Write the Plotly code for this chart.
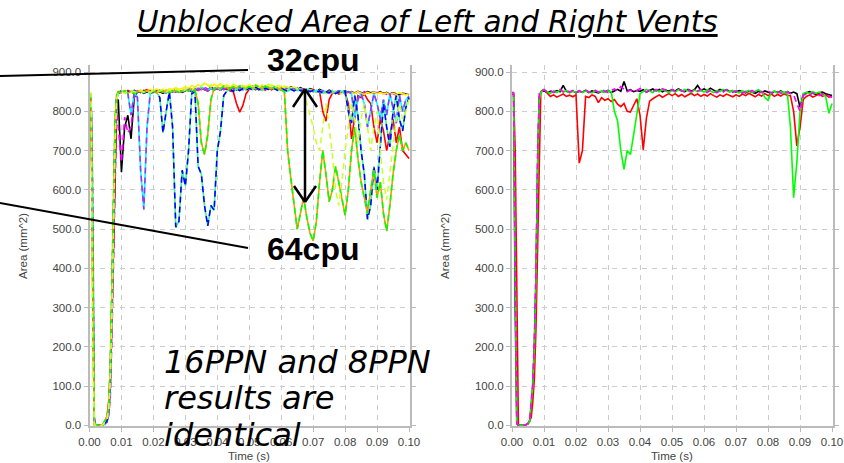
import plotly.graph_objects as go

W, H = 844, 463

# ---------------- data ----------------
TIME_MS = [0, 0.5, 1, 1.5, 2, 3, 4, 5, 5.5, 6, 6.5, 7, 7.5, 8, 8.5, 9,
           10, 11, 12, 13, 14, 15, 16, 17, 18, 19,
           20, 21, 22, 23, 24, 25, 26, 27, 28, 29,
           30, 31, 32, 33, 34, 35, 36, 37, 38, 39,
           40, 41, 42, 43, 44, 45, 46, 47, 48, 49,
           50, 51, 52, 53, 54, 55, 56, 57, 58, 59,
           60, 61, 62, 63, 64, 65, 66, 67, 68, 69,
           70, 71, 72, 73, 74, 75, 76, 77, 78, 79,
           80, 81, 82, 83, 84, 85, 86, 87, 88, 89,
           90, 91, 92, 93, 94, 95, 96, 97, 98, 99,
           100]
TIME_S = [t / 1000.0 for t in TIME_MS]

# Left panel (32cpu / 64cpu runs)
left_black = [842, 840, 380, 2, 0, 0, 0, 6, 10, 30, 90, 260, 470, 700, 820, 830,
              645, 760, 790, 730, 835, 850, 848, 853, 849, 852,
              848, 852, 850, 846, 853, 849, 851, 855, 850, 848,
              852, 856, 850, 858, 854, 860, 856, 852, 862, 855,
              858, 854, 860, 856, 862, 858, 855, 860, 857, 862,
              858, 864, 860, 855, 862, 858, 860, 856, 862, 858,
              855, 860, 857, 862, 858, 855, 860, 856, 852, 858,
              855, 850, 856, 852, 848, 854, 850, 847, 852, 849,
              852, 848, 850, 846, 851, 848, 845, 850, 847, 849,
              846, 850, 845, 848, 843, 847, 845, 842, 846, 844,
              843]
left_magenta = [846, 842, 500, 10, 0, 0, 0, 4, 8, 25, 70, 220, 430, 650, 800, 760,
                670, 785, 745, 760, 840, 852, 847, 851, 855, 849,
                853, 848, 852, 849, 846, 851, 854, 848, 852, 850,
                855, 851, 857, 853, 859, 855, 861, 857, 853, 859,
                856, 861, 855, 859, 863, 857, 861, 855, 859, 856,
                861, 857, 863, 858, 856, 861, 857, 863, 859, 855,
                859, 855, 861, 857, 853, 859, 855, 857, 853, 855,
                851, 855, 849, 853, 851, 847, 853, 849, 851, 847,
                849, 846, 852, 847, 849, 845, 850, 846, 848, 845,
                848, 844, 847, 843, 848, 845, 841, 846, 843, 845,
                841]
left_cyan = [835, 828, 600, 20, 0, 0, 0, 5, 9, 35, 110, 300, 520, 740, 830, 846,
             848, 852, 846, 790, 848, 835, 650, 550, 760, 845,
             851, 848, 853, 850, 847, 852, 849, 853, 848, 851,
             853, 857, 852, 858, 855, 861, 856, 853, 859, 856,
             860, 855, 859, 862, 856, 860, 857, 861, 855, 859,
             857, 862, 858, 860, 855, 861, 857, 859, 863, 857,
             858, 854, 860, 856, 859, 853, 857, 852, 856, 853,
             850, 854, 848, 852, 849, 846, 851, 848, 852, 849,
             847, 850, 846, 780, 830, 846, 820, 760, 800, 845,
             820, 780, 830, 790, 845, 810, 770, 840, 800, 830,
             838]
left_spring = [840, 836, 450, 8, 0, 0, 0, 7, 12, 45, 130, 330, 560, 760, 838, 848,
               852, 847, 851, 849, 853, 848, 851, 846, 850, 845,
               850, 848, 835, 745, 800, 850, 760, 505, 520, 650,
               610, 700, 845, 850, 660, 640, 560, 508, 560, 548,
               700, 750, 840, 852, 856, 851, 857, 853, 858, 854,
               859, 855, 861, 857, 853, 859, 856, 861, 857, 853,
               858, 854, 851, 856, 852, 857, 853, 849, 854, 850,
               853, 849, 852, 846, 850, 848, 852, 845, 849, 851,
               850, 800, 770, 840, 790, 700, 640, 525, 560, 660,
               600, 720, 820, 760, 710, 800, 840, 780, 750, 810,
               835]
left_orange = [845, 840, 420, 5, 0, 0, 0, 15, 20, 50, 150, 350, 580, 780, 840, 850,
               848, 852, 847, 851, 846, 850, 853, 848, 852, 849,
               851, 847, 853, 849, 852, 848, 851, 855, 849, 853,
               856, 852, 858, 854, 820, 720, 690, 740, 830, 858,
               862, 858, 864, 860, 857, 863, 859, 865, 861, 858,
               863, 859, 866, 861, 858, 864, 860, 857, 862, 859,
               855, 850, 700, 630, 560, 500, 540, 580, 530, 490,
               470, 520, 620, 700, 640, 570, 600, 660, 620, 580,
               535, 600, 700, 760, 680, 620, 580, 540, 600, 650,
               580, 620, 540, 495, 560, 640, 700, 740, 700, 720,
               700]
left_yellowgreen = [848, 846, 200, 0, 0, 0, 0, 10, 18, 40, 120, 280, 500, 720, 830, 845,
                    850, 846, 852, 848, 851, 847, 853, 849, 852, 848,
                    853, 849, 852, 856, 850, 854, 851, 857, 853, 850,
                    856, 860, 855, 862, 858, 866, 870, 862, 868, 860,
                    864, 868, 861, 866, 862, 869, 864, 860, 866, 862,
                    868, 863, 866, 861, 867, 863, 869, 864, 860, 866,
                    861, 865, 860, 857, 862, 858, 850, 845, 820, 790,
                    760, 720, 700, 760, 820, 760, 690, 600, 560, 620,
                    700, 760, 820, 780, 720, 780, 820, 760, 700, 760,
                    800, 700, 620, 575, 640, 720, 780, 820, 780, 800,
                    830]
left_red = [843, 838, 350, 0, 0, 0, 0, 12, 25, 60, 140, 300, 480, 720, 830, 848,
            851, 847, 853, 849, 846, 852, 848, 851, 855, 850,
            848, 853, 849, 852, 847, 851, 855, 849, 853, 850,
            854, 858, 852, 857, 853, 859, 855, 852, 858, 854,
            859, 855, 861, 856, 852, 850, 820, 798, 815, 845,
            856, 860, 855, 861, 857, 854, 859, 855, 861, 856,
            860, 856, 852, 858, 854, 859, 855, 851, 856, 852,
            855, 849, 850, 800, 775, 830, 846, 850, 844, 848,
            846, 820, 730, 790, 840, 835, 845, 830, 820, 760,
            720, 780, 750, 700, 740, 780, 720, 760, 700, 690,
            680]
left_yellow = [846, 843, 300, 0, 0, 0, 0, 8, 15, 45, 125, 310, 540, 760, 836, 851,
               849, 853, 848, 852, 847, 851, 854, 849, 853, 856,
               852, 857, 853, 856, 852, 858, 855, 860, 856, 858,
               862, 858, 866, 861, 868, 863, 872, 866, 862, 869,
               865, 870, 863, 867, 862, 868, 864, 860, 866, 863,
               867, 862, 868, 863, 860, 865, 861, 867, 863, 859,
               864, 860, 856, 861, 857, 853, 858, 855, 851, 856,
               852, 848, 853, 849, 845, 851, 847, 852, 848, 845,
               850, 846, 849, 845, 850, 847, 843, 848, 845, 849,
               845, 848, 844, 847, 842, 846, 843, 847, 844, 842,
               845]

# Right panel
right_black = [848, 845, 300, 5, 0, 0, 0, 4, 10, 50, 100, 210, 380, 660, 835, 850,
               852, 848, 851, 849, 853, 850, 866, 851, 848, 852,
               847, 851, 849, 853, 848, 852, 850, 847, 851, 849,
               853, 848, 852, 856, 851, 876, 852, 855, 850, 853,
               851, 855, 849, 853, 857, 852, 856, 850, 854, 851,
               855, 852, 857, 853, 850, 856, 852, 855, 866, 853,
               857, 853, 859, 854, 851, 856, 852, 855, 850, 853,
               849, 853, 850, 847, 852, 849, 846, 851, 848, 852,
               849, 846, 851, 848, 852, 847, 850, 846, 849, 845,
               810, 844, 847, 850, 846, 843, 847, 849, 845, 842,
               840]
right_red = [845, 842, 700, 300, 0, 0, 0, 5, 12, 20, 60, 120, 250, 450, 720, 850,
             855, 845, 838, 842, 836, 840, 844, 838, 841, 837,
             842, 668, 700, 838, 835, 842, 838, 822, 835, 828,
             832, 825, 830, 818, 812, 820, 800, 798, 815, 832,
             790, 702, 783, 826, 832, 838, 842, 836, 840, 845,
             840, 845, 838, 843, 837, 842, 846, 840, 844, 838,
             843, 839, 845, 840, 836, 842, 838, 844, 840, 837,
             842, 838, 844, 840, 846, 841, 837, 843, 839, 845,
             840, 844, 838, 843, 839, 845, 841, 840, 800, 712,
             760, 830, 838, 842, 836, 840, 844, 838, 842, 836,
             838]
right_green = [846, 845, 380, 4, 0, 0, 0, 4, 10, 55, 100, 200, 370, 650, 830, 848,
               856, 850, 846, 852, 848, 854, 849, 853, 847, 851,
               849, 853, 848, 852, 850, 847, 853, 849, 852, 848,
               852, 850, 800, 775, 700, 652, 700, 690, 740, 790,
               845, 850, 856, 852, 848, 854, 850, 856, 851, 848,
               853, 849, 855, 851, 856, 852, 848, 854, 850, 853,
               849, 855, 851, 848, 853, 850, 856, 852, 849, 853,
               850, 847, 852, 849, 853, 848, 851, 855, 850, 835,
               828, 848, 852, 846, 850, 847, 850, 760, 580, 670,
               800, 845, 849, 845, 850, 846, 849, 844, 838, 795,
               820]
right_magenta = [848, 848, 420, 5, 0, 0, 0, 5, 12, 60, 110, 220, 400, 690, 845, 852,
                 855, 849, 853, 848, 852, 856, 850, 854, 849, 853,
                 848, 852, 849, 854, 850, 847, 853, 849, 855, 851,
                 848, 853, 857, 852, 863, 856, 850, 854, 849, 853,
                 858, 853, 849, 855, 851, 856, 852, 858, 853, 850,
                 855, 851, 856, 852, 849, 855, 850, 854, 851, 856,
                 852, 848, 854, 850, 847, 853, 849, 855, 851, 848,
                 852, 849, 846, 851, 848, 853, 849, 845, 850, 847,
                 851, 848, 845, 850, 847, 843, 849, 846, 842, 820,
                 800, 840, 845, 841, 847, 843, 840, 845, 842, 838,
                 836]

Y_TICKS = [0, 100, 200, 300, 400, 500, 600, 700, 800, 900]
Y_TICK_LABELS = ["0.0", "100.0", "200.0", "300.0", "400.0", "500.0",
                 "600.0", "700.0", "800.0", "900.0"]
X_TICKS = [0.00, 0.01, 0.02, 0.03, 0.04, 0.05, 0.06, 0.07, 0.08, 0.09, 0.10]
X_TICK_LABELS = ["0.00", "0.01", "0.02", "0.03", "0.04", "0.05",
                 "0.06", "0.07", "0.08", "0.09", "0.10"]

# ---------------- figure ----------------
def px(x):
    return x / W

def py(y):
    return 1 - y / H

fig = go.Figure()

LW = 1.6
DASH = "6px,4px"

def add(y, color, dash="solid", axis=1):
    fig.add_trace(go.Scatter(
        x=TIME_S, y=y, mode="lines",
        line=dict(color=color, width=LW, dash=dash),
        xaxis="x" if axis == 1 else "x2",
        yaxis="y" if axis == 1 else "y2",
        hoverinfo="skip", showlegend=False))

# left panel
add(left_black, "#000000")
add(left_magenta, "#ff00ff", DASH)
add(left_red, "#ff0000")
add(left_yellow, "#ffee00")
add(left_cyan, "#00ffff")
add(left_cyan, "#9933ff", DASH)
add(left_spring, "#3cf29c")
add(left_spring, "#0000ff", DASH)
add(left_orange, "#ff9900")
add(left_orange, "#00ff00", DASH)
add(left_yellowgreen, "#ccff33", DASH)

# right panel
add(right_black, "#000000", axis=2)
add(right_red, "#ff0000", axis=2)
add(right_green, "#00ff00", axis=2)
add(right_magenta, "#ff00ff", DASH, axis=2)

TICKFONT = dict(family="Liberation Sans, Arial, sans-serif", size=11.5, color="#444444")
GRID = "#cccccc"
AXLINE = "#bbbbbb"

Y_DOM = [py(426), py(65)]
Y_RANGE = [-1.5, 918]
X_RANGE = [0, 0.1003]

def xaxis(dom):
    return dict(domain=dom, range=X_RANGE, tickvals=X_TICKS, ticktext=X_TICK_LABELS,
                showgrid=True, gridcolor=GRID, griddash="5px,5px", gridwidth=1,
                showline=True, linecolor=AXLINE, linewidth=2, mirror=False,
                ticks="outside", ticklen=4, tickcolor=AXLINE, tickfont=TICKFONT,
                zeroline=False, fixedrange=True, automargin=False)

def yaxis(anchor):
    return dict(domain=Y_DOM, range=Y_RANGE, tickvals=Y_TICKS, ticktext=Y_TICK_LABELS,
                showgrid=True, gridcolor=GRID, griddash="5px,5px", gridwidth=1,
                showline=True, linecolor=AXLINE, linewidth=2, mirror="ticks",
                ticks="outside", ticklen=4, tickcolor=AXLINE, tickfont=TICKFONT,
                zeroline=False, anchor=anchor, fixedrange=True, automargin=False)

fig.update_layout(
    width=W, height=H,
    margin=dict(l=0, r=0, t=0, b=0, autoexpand=False),
    paper_bgcolor="white", plot_bgcolor="white",
    showlegend=False,
    xaxis=dict(xaxis([px(89.5), px(410)]), anchor="y"),
    yaxis=yaxis("x"),
    xaxis2=dict(xaxis([px(512), px(833)]), anchor="y2"),
    yaxis2=yaxis("x2"),
)

AXFONT = dict(family="Liberation Sans, Arial, sans-serif", size=11.5, color="#444444")
ann = []
# axis titles
for cx in (23, 445):
    ann.append(dict(x=px(cx), y=py(246), xref="paper", yref="paper", text="Area (mm^2)",
                    textangle=-90, showarrow=False, font=AXFONT,
                    xanchor="center", yanchor="middle"))
for cx in (249, 672):
    ann.append(dict(x=px(cx), y=py(456), xref="paper", yref="paper", text="Time (s)",
                    showarrow=False, font=AXFONT, xanchor="center", yanchor="middle"))

# headline and callouts
ann.append(dict(x=px(427), y=py(22), xref="paper", yref="paper",
                text="<u>Unblocked Area of Left and Right Vents</u>", showarrow=False,
                font=dict(family="DejaVu Sans", size=29.5, color="black", style="italic"),
                xanchor="center", yanchor="middle"))
ann.append(dict(x=px(313), y=py(60), xref="paper", yref="paper", text="<b>32cpu</b>",
                showarrow=False, font=dict(family="Liberation Sans, Arial", size=32, color="black"),
                xanchor="center", yanchor="middle"))
ann.append(dict(x=px(313), y=py(249), xref="paper", yref="paper", text="<b>64cpu</b>",
                showarrow=False, font=dict(family="Liberation Sans, Arial", size=32, color="black"),
                xanchor="center", yanchor="middle"))
NOTE_FONT = dict(family="DejaVu Sans", size=32, color="black", style="italic")
for txt, cy in (("16PPN and 8PPN", 362), ("results are", 398), ("identical", 435)):
    ann.append(dict(x=px(162), y=py(cy), xref="paper", yref="paper", text=txt,
                    showarrow=False, font=NOTE_FONT, xanchor="left", yanchor="middle"))
fig.update_layout(annotations=ann)

# pointer lines and double arrow
shapes = []
def seg(x0, y0, x1, y1, w=2):
    shapes.append(dict(type="line", xref="paper", yref="paper",
                       x0=px(x0), y0=py(y0), x1=px(x1), y1=py(y1),
                       line=dict(color="black", width=w)))
seg(0, 76, 248, 70)
seg(0, 203, 248, 248)
seg(305, 89, 305, 202, 2.5)
seg(293, 107, 305, 89, 2.5)
seg(317, 107, 305, 89, 2.5)
seg(294, 186, 305, 202, 2.5)
seg(316, 186, 305, 202, 2.5)
fig.update_layout(shapes=shapes)

fig.write_html("out.html",
               config={"displayModeBar": False, "staticPlot": True},
               post_script="document.body.style.margin='0px';document.body.style.overflow='hidden';")
